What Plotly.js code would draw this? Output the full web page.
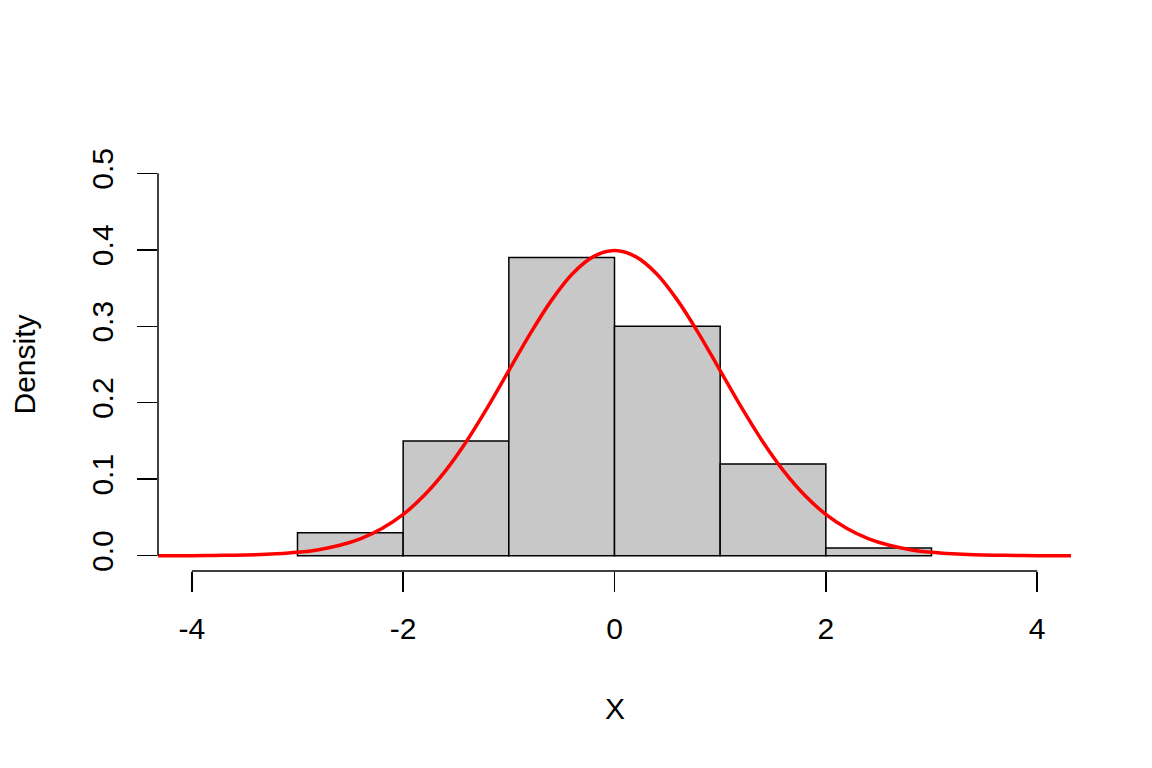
<!DOCTYPE html>
<html>
<head>
<meta charset="utf-8">
<script src="https://cdn.plot.ly/plotly-3.0.1.min.js"></script>
<style>html,body{margin:0;padding:0;background:#fff;}#chart{width:1152px;height:768px;}</style>
</head>
<body>
<div id="chart"></div>
<script>
// Histogram bins (left edges, right edges) and densities
const binLeft  = [-3, -2, -1, 0, 1, 2];
const binRight = [-2, -1, 0, 1, 2, 3];
const density  = [0.03, 0.15, 0.39, 0.30, 0.12, 0.01];

// Red density curve
const curveX = [-4.32, -4.0, -3.8, -3.6, -3.4, -3.2, -3.0, -2.8, -2.6, -2.4, -2.2, -2.0, -1.8, -1.6, -1.4, -1.2, -1.0, -0.8, -0.6, -0.4, -0.2, 0.0,
                0.2, 0.4, 0.6, 0.8, 1.0, 1.2, 1.4, 1.6, 1.8, 2.0, 2.2, 2.4, 2.6, 2.8, 3.0, 3.2, 3.4, 3.6, 3.8, 4.0, 4.32];
const curveY = [0.0000, 0.0001, 0.0003, 0.0006, 0.0012, 0.0024, 0.0044, 0.0079, 0.0136, 0.0224, 0.0355, 0.0540, 0.0790, 0.1109, 0.1497, 0.1942, 0.2420, 0.2897, 0.3332, 0.3683, 0.3910, 0.3989,
                0.3910, 0.3683, 0.3332, 0.2897, 0.2420, 0.1942, 0.1497, 0.1109, 0.0790, 0.0540, 0.0355, 0.0224, 0.0136, 0.0079, 0.0044, 0.0024, 0.0012, 0.0006, 0.0003, 0.0001, 0.0000];

// Axis ticks
const xTickVals = [-4, -2, 0, 2, 4];
const xTickText = ["-4", "-2", "0", "2", "4"];
const yTickVals = [0, 0.1, 0.2, 0.3, 0.4, 0.5];
const yTickText = ["0.0", "0.1", "0.2", "0.3", "0.4", "0.5"];

const xLabel = "X";
const yLabel = "Density";

const mids = binLeft.map((l, i) => (l + binRight[i]) / 2);
const widths = binLeft.map((l, i) => binRight[i] - l);

const FONT = "Liberation Sans, Arial, Helvetica, sans-serif";

const traces = [
  {
    type: "bar",
    x: mids,
    y: density,
    width: widths,
    marker: {color: "#c8c8c8", line: {color: "#000000", width: 1.5}},
    hoverinfo: "skip",
    showlegend: false
  },
  {
    type: "scatter",
    mode: "lines",
    x: curveX,
    y: curveY,
    line: {color: "#ff0000", width: 3.5, shape: "spline", smoothing: 1},
    hoverinfo: "skip",
    showlegend: false,
    cliponaxis: false
  }
];

const layout = {
  width: 1152,
  height: 768,
  paper_bgcolor: "#ffffff",
  plot_bgcolor: "#ffffff",
  margin: {l: 158, r: 81, t: 158, b: 197, pad: 0},
  font: {family: FONT, size: 30, color: "#000000"},
  bargap: 0,
  xaxis: {
    range: [-4.32, 4.32],
    tickvals: xTickVals,
    ticktext: xTickText,
    ticks: "outside",
    ticklen: 20,
    tickwidth: 1.5,
    tickcolor: "#000000",
    showline: false,
    showgrid: false,
    zeroline: false,
    tickfont: {family: FONT, size: 30, color: "#000000"},
    ticklabelstandoff: 11,
    fixedrange: true
  },
  yaxis: {
    range: [-0.02, 0.52],
    tickvals: yTickVals,
    ticktext: yTickText,
    ticks: "outside",
    ticklen: 20,
    tickwidth: 1.5,
    tickcolor: "#000000",
    tickangle: -90,
    showline: false,
    showgrid: false,
    zeroline: false,
    tickfont: {family: FONT, size: 30, color: "#000000"},
    ticklabelstandoff: 12,
    fixedrange: true
  },
  shapes: [
    {type: "line", xref: "x", yref: "paper", x0: xTickVals[0], x1: xTickVals[xTickVals.length - 1], y0: 0, y1: 0,
     line: {color: "#000000", width: 1.5}},
    {type: "line", xref: "paper", yref: "y", x0: 0, x1: 0, y0: yTickVals[0], y1: yTickVals[yTickVals.length - 1],
     line: {color: "#000000", width: 1.5}}
  ],
  annotations: [
    {text: xLabel, xref: "paper", yref: "paper", x: 0.5, y: (571 - 708) / 413, xanchor: "center", yanchor: "middle",
     showarrow: false, font: {family: FONT, size: 30, color: "#000000"}},
    {text: yLabel, xref: "paper", yref: "paper", x: (24 - 158) / 913, y: 0.5, xanchor: "center", yanchor: "middle",
     textangle: -90, showarrow: false, font: {family: FONT, size: 30, color: "#000000"}}
  ]
};

Plotly.newPlot("chart", traces, layout, {displayModeBar: false, staticPlot: true});
</script>
</body>
</html>
